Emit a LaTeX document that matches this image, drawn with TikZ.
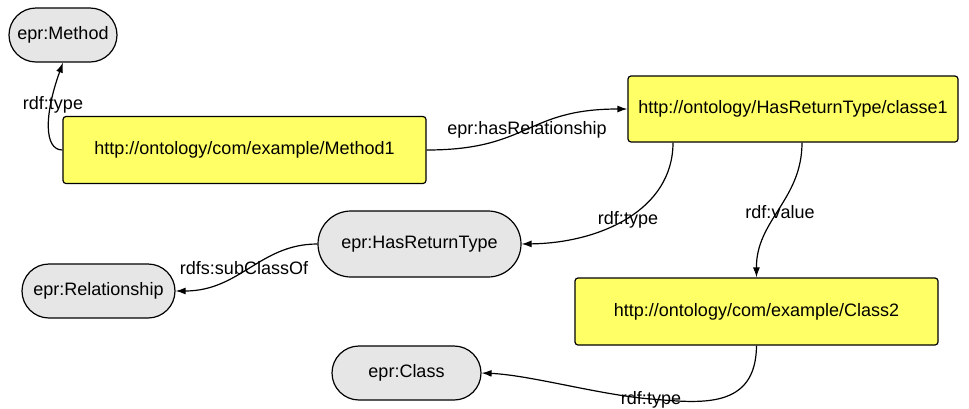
\documentclass[tikz,border=0pt]{standalone}
\usepackage{fontspec}
\setmainfont{Liberation Sans}
\usetikzlibrary{arrows.meta}
\definecolor{resfill}{HTML}{FFFF66}
\definecolor{clsfill}{HTML}{E6E6E6}
\tikzset{
  resbox/.style={draw=black, line width=1.2pt, fill=resfill, rounded corners=3pt,
    inner sep=0pt, anchor=center},
  clspill/.style={draw=black, line width=1.2pt, fill=clsfill, inner sep=0pt, anchor=center},
  edge/.style={draw=black, line width=1.2pt, -{Latex[length=10pt,width=7pt]}},
  lbl/.style={inner sep=0pt, anchor=center},
}
\begin{document}
\begin{tikzpicture}[x=1pt, y=-1pt, font=\fontsize{18}{21}\selectfont]
\useasboundingbox (0,0) rectangle (969,408);

% resources (yellow boxes)
\node[resbox, minimum width=363pt, minimum height=67pt] (m1) at (244.5,150) {http://ontology/com/example/Method1};
\node[resbox, minimum width=330pt, minimum height=66pt] (c1) at (793,109) {http://ontology/HasReturnType/classe1};
\node[resbox, minimum width=363pt, minimum height=67pt] (c2) at (756.5,311.5) {http://ontology/com/example/Class2};

% classes (grey pills)
\node[clspill, rounded corners=27pt, minimum width=108pt, minimum height=54pt] (meth) at (63,35) {epr:Method};
\node[clspill, rounded corners=33pt, minimum width=203pt, minimum height=66pt] (hrt) at (419.5,244) {epr:HasReturnType};
\node[clspill, rounded corners=27pt, minimum width=153pt, minimum height=54pt] (rel) at (98.5,291) {epr:Relationship};
\node[clspill, rounded corners=27pt, minimum width=149pt, minimum height=54pt] (cls) at (406.5,373) {epr:Class};

% properties
\draw[edge] (m1.west) .. controls (44,150) and (44,115) .. (meth.south);
\draw[edge] (m1.east) .. controls (530,150) and (525,109) .. (c1.west);
\draw[edge] ([xshift=-120pt]c1.south) .. controls (673,210) and (600,243) .. (hrt.east);
\draw[edge] ([xshift=9pt]c1.south) .. controls (802,200) and (756,220) .. (c2.north);
\draw[edge] (hrt.west) .. controls (260,244) and (240,291) .. (rel.east);
\coordinate (bend) at (651,399);
\draw[edge] (c2.south) .. controls (756,410) and (700,403) .. (bend)
  .. controls (600,395) and (530,375) .. (cls.east);

% property labels
\node[lbl] (l1) at (53,105) {rdf:type};
\node[lbl] (l2) at (527,130) {epr:hasRelationship};
\node[lbl] (l3) at (628,220) {rdf:type};
\node[lbl] (l4) at (780,212) {rdf:value};
\node[lbl] (l5) at (244,268) {rdfs:subClassOf};
\node[lbl] (l6) at (651,400) {rdf:type};
\end{tikzpicture}
\end{document}
